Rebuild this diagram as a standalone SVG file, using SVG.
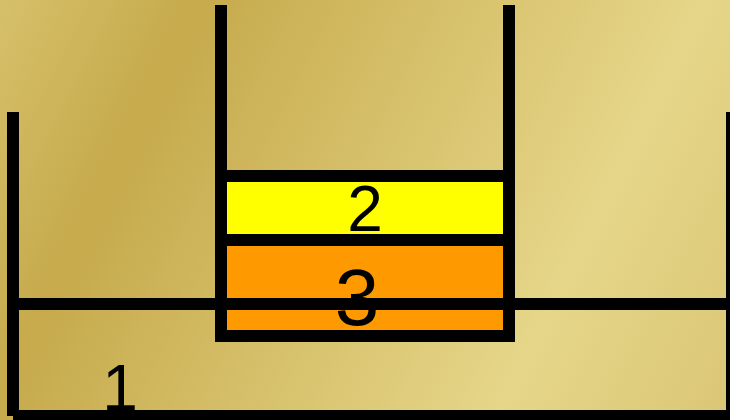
<svg xmlns="http://www.w3.org/2000/svg" width="730" height="420" viewBox="0 0 730 420">
  <defs>
    <linearGradient id="bg" gradientUnits="userSpaceOnUse" x1="0" y1="0" x2="752" y2="376">
      <stop offset="0" stop-color="#d6c06a"/>
      <stop offset="0.21" stop-color="#c6aa4c"/>
      <stop offset="0.75" stop-color="#e6d689"/>
      <stop offset="1" stop-color="#dac675"/>
    </linearGradient>
    <style>
      .wall { stroke: #000; stroke-width: 12; fill: none; stroke-linecap: butt; }
      .box { stroke: #000; stroke-width: 12; }
      .lbl { font-family: "Liberation Sans", Arial, sans-serif; fill: #000; text-anchor: middle; }
    </style>
  </defs>
  <rect x="0" y="0" width="730" height="420" fill="url(#bg)"/>

  <g id="outer-container">
    <line class="wall" x1="13" y1="112" x2="13" y2="416"/>
    <line class="wall" x1="13" y1="416" x2="740" y2="416"/>
    <line class="wall" x1="732" y1="112" x2="732" y2="416"/>
    <text class="lbl" x="120" y="410" font-size="64">1</text>
  </g>

  <g id="box-2">
    <rect class="box" x="221" y="176" width="288" height="64" fill="#ffff00"/>
    <text class="lbl" x="365" y="231" font-size="64">2</text>
  </g>

  <g id="box-3">
    <rect class="box" x="221" y="240" width="288" height="96" fill="#ff9900"/>
    <text class="lbl" x="357" y="325" font-size="80">3</text>
  </g>

  <g id="inner-container">
    <path class="wall" d="M221,5 V336 H509 V5" stroke-linejoin="miter"/>
  </g>

  <g id="connectors">
    <line class="wall" x1="19" y1="304" x2="730" y2="304"/>
  </g>
</svg>
